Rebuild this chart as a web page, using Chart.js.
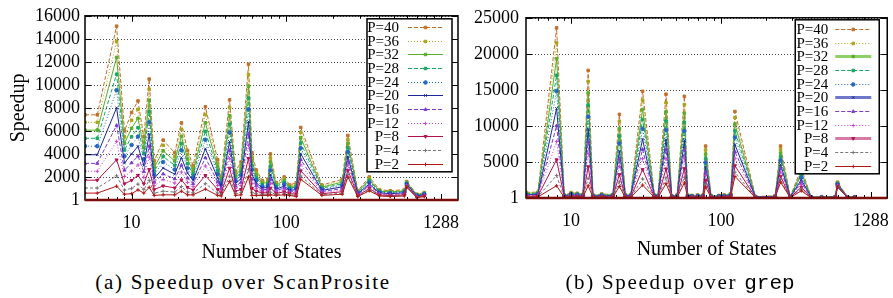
<!DOCTYPE html>
<html><head><meta charset="utf-8">
<script src="https://cdn.jsdelivr.net/npm/chart.js@4"></script>
<style>
html,body{margin:0;padding:0;background:#fff;width:893px;height:298px;overflow:hidden;}
#wa{position:absolute;left:0;top:0;width:470px;height:265px;}
#wb{position:absolute;left:462px;top:0;width:431px;height:265px;}
.cap{position:absolute;top:270px;font-family:"Liberation Serif","Times New Roman",serif;font-size:21px;letter-spacing:1.7px;white-space:nowrap;transform:translateX(-50%);color:#000;}
.mono{font-family:"Liberation Mono",monospace;letter-spacing:0;}
</style></head><body>
<div id="wa"><canvas id="ca" width="470" height="265"></canvas></div>
<div id="wb"><canvas id="cb" width="431" height="265"></canvas></div>
<div class="cap" style="left:243px">(a) Speedup over ScanProsite</div>
<div class="cap" style="left:680px">(b) Speedup over <span class="mono">grep</span></div>
<script>
// ---------- categories / ticks ----------
const states = [5,6,8,9,10,11,12,13,14,16,19,21,23,25,30,36,38,43,47,51,57,60,64,70,76,79,86,97,105,116,124,170,230,250,290,344,400,470,580,600,700,780];
const seriesLabels = ['P=40','P=36','P=32','P=28','P=24','P=20','P=16','P=12','P=8','P=4','P=2'];
const xTickValues = [10,100,1000];
const xTickLabels = ['10','100','1288'];
const xMinorTicks = [6,7,8,9,20,30,40,50,60,70,80,90,200,300,400,500,600,700,800,900];
const yTicksA = [1,2000,4000,6000,8000,10000,12000,14000,16000];
const yLabelsA = ['1','2000','4000','6000','8000','10000','12000','14000','16000'];
const yTicksB = [1,5000,10000,15000,20000,25000];
const yLabelsB = ['1','5000','10000','15000','20000','25000'];

// ---------- (a) Speedup over ScanProsite ----------
const scanP40 = [7400,7400,15100,6000,7600,8600,5500,10500,3400,5200,4100,6700,4300,3000,8100,3500,2000,8700,2500,3300,11800,4100,2600,1700,1800,4000,1500,2000,1300,1500,6300,1300,1800,5600,800,2000,900,800,900,1600,500,650];
const scanP36 = [6750,6750,13780,5480,6930,7870,5030,9610,3120,4750,3750,6140,3930,2760,7420,3210,1840,8030,2300,3030,10870,3750,2390,1580,1670,3660,1400,1850,1210,1390,5870,1210,1680,5260,750,1890,850,750,850,1550,470,620];
const scanP32 = [6070,6070,12390,4930,6230,7090,4540,8670,2820,4270,3390,5540,3550,2500,6710,2900,1680,7320,2090,2740,9890,3380,2170,1450,1530,3310,1290,1700,1120,1270,5420,1120,1550,4900,700,1770,790,700,790,1500,440,580];
const scanP28 = [5360,5360,10930,4350,5490,6280,4030,7680,2500,3780,3010,4920,3150,2240,5960,2570,1510,6570,1870,2450,8860,2990,1940,1310,1380,2940,1170,1540,1030,1140,4950,1030,1410,4520,650,1640,740,650,740,1450,410,550];
const scanP24 = [4680,4680,9540,3800,4780,5510,3540,6740,2200,3300,2640,4330,2760,1980,5240,2260,1340,5860,1660,2160,7880,2620,1720,1180,1240,2580,1060,1380,940,1020,4500,940,1280,4160,600,1520,680,600,680,1400,380,510];
const scanP20 = [3930,3930,8010,3200,4000,4660,3000,5710,1870,2780,2240,3680,2340,1700,4450,1920,1160,5080,1430,1850,6800,2210,1480,1040,1090,2190,940,1210,840,890,4010,840,1140,3760,550,1390,620,550,620,1350,350,470];
const scanP16 = [3180,3180,6480,2590,3230,3810,2460,4670,1540,2260,1840,3020,1910,1420,3670,1580,980,4300,1200,1530,5720,1810,1240,890,930,1800,820,1040,740,760,3510,740,990,3370,490,1260,560,490,560,1290,310,430];
const scanP12 = [2500,2500,5090,2040,2520,3040,1970,3730,1240,1780,1470,2430,1530,1160,2950,1270,810,3590,990,1250,4740,1440,1020,760,790,1440,710,880,650,640,3060,650,860,3010,440,1140,500,440,500,1240,280,400];
const scanP8  = [1720,1720,3490,1410,1710,2150,1410,2650,900,1230,1050,1750,1090,870,2130,910,620,2770,750,920,3620,1010,760,620,630,1040,580,710,550,500,2540,550,720,2590,380,1000,440,380,440,1180,250,360];
const scanP4  = [1040,1040,2100,860,1010,1380,920,1710,600,760,690,1160,700,620,1420,600,460,2060,540,640,2640,640,540,490,490,680,470,550,460,380,2090,460,590,2230,330,880,390,330,390,1130,220,320];
const scanP2  = [600,600,1200,500,550,880,600,1100,400,450,450,770,450,450,950,400,350,1600,400,450,2000,400,400,400,400,450,400,450,400,300,1800,400,500,2000,300,800,350,300,350,1100,200,300];

// ---------- (b) Speedup over grep ----------
const grepP40 = [800,800,23600,400,750,650,500,17700,400,550,500,11600,450,450,14800,400,350,14400,300,400,14100,400,350,400,400,7200,300,350,400,600,12000,200,300,7200,200,4100,150,150,200,2200,150,150];
const grepP36 = [740,740,21520,370,690,600,460,16180,370,510,460,10650,420,420,13570,370,320,13220,280,370,12960,370,320,370,370,6660,280,320,370,550,11150,180,280,6730,180,3810,140,140,180,2130,140,140];
const grepP32 = [670,670,19330,340,630,550,420,14580,340,460,420,9650,380,380,12270,340,300,11980,250,340,11760,340,300,340,340,6090,250,300,340,510,10250,170,250,6230,170,3500,130,130,170,2060,130,130];
const grepP28 = [600,600,17030,300,570,490,380,12900,300,420,380,8600,340,340,10900,300,270,10680,230,300,10500,300,270,300,300,5490,230,270,300,460,9300,150,230,5700,150,3170,110,110,150,1990,110,110];
const grepP24 = [540,540,14840,270,510,440,340,11300,270,370,340,7600,310,310,9600,270,240,9440,200,270,9300,270,240,270,270,4920,200,240,270,410,8400,140,200,5200,140,2860,100,100,140,1920,100,100];
const grepP20 = [470,470,12430,240,440,390,300,9540,240,330,300,6500,270,270,8170,240,210,8080,180,240,7980,240,210,240,240,4290,180,210,240,360,7410,120,180,4650,120,2520,90,90,120,1840,90,90];
const grepP16 = [400,400,10020,200,380,330,250,7780,200,280,250,5400,230,230,6740,200,180,6710,150,200,6660,200,180,200,200,3670,150,180,200,300,6420,100,150,4100,100,2180,80,80,100,1770,80,80];
const grepP12 = [330,330,7830,170,320,280,210,6180,170,230,210,4400,190,190,5440,170,150,5470,130,170,5460,170,150,170,170,3100,130,150,170,250,5520,90,130,3600,90,1870,60,60,90,1700,60,60];
const grepP8  = [260,260,5310,130,250,220,170,4340,130,180,170,3250,150,150,3950,130,120,4050,100,130,4080,130,120,130,130,2440,100,120,130,200,4490,70,100,3030,70,1510,50,50,70,1620,50,50];
const grepP4  = [190,190,3120,100,190,160,130,2740,100,140,130,2250,110,110,2650,100,90,2810,80,100,2880,100,90,100,100,1870,80,90,100,150,3590,50,80,2530,50,1200,40,40,50,1550,40,40];
const grepP2  = [150,150,1700,80,150,130,100,1700,80,110,100,1600,90,90,1800,80,70,2000,60,80,2100,80,70,80,80,1500,60,70,80,120,3000,40,60,2200,40,1000,30,30,40,1500,30,30];

// ---------- styles ----------
const seriesColors = ['#c0702e','#aaa41c','#5cad2c','#18a866','#2468c0','#1c2898','#7a3ccc','#cc44cc','#b3124e','#777777','#b01818'];
const keyThickColors = [null,null,'#8fcf6a',null,null,'#6f78c8',null,null,'#d57aa4',null,null];
const seriesDash = [[4,2],[1,2],[],[4,2],[1,2],[],[4,2],[1,2],[],[3,2],[]];
const seriesPoint = ['rect','rect','rect','rect','circle','crossRot','triangle','cross','triangle','cross','cross'];
const seriesRot = [0,0,0,0,0,0,0,0,180,0,0];
const serifFamily = '"Liberation Serif", "Times New Roman", serif';
const tickFont = {family:serifFamily, size:18};
const titleFont = {family:serifFamily, size:20};

function buildDatasets(arrays){
  return arrays.map((arr,k)=>({
    label: seriesLabels[k],
    data: states.map((s,i)=>({x:s,y:arr[i]})),
    borderColor: seriesColors[k], backgroundColor: seriesColors[k],
    borderWidth: 1, borderDash: seriesDash[k],
    pointStyle: seriesPoint[k], pointRotation: seriesRot[k],
    pointRadius: 1.8, pointBorderWidth: 1, tension: 0, fill: false,
    order: arrays.length - k
  }));
}

const framePlugin = {
  id:'frame',
  beforeDatasetsDraw(chart,args,o){
    const {ctx, chartArea:a, scales:{y:ys}} = chart;
    ctx.save();
    ctx.strokeStyle='rgba(0,0,0,0.7)'; ctx.lineWidth=1; ctx.setLineDash([1,2]);
    ctx.beginPath();
    for(const v of o.yTicks){ const py=Math.round(ys.getPixelForValue(v))+0.5; ctx.moveTo(a.left,py); ctx.lineTo(a.right,py); }
    ctx.stroke(); ctx.restore();
  },
  afterDatasetsDraw(chart,args,o){
    const {ctx, chartArea:a, scales:{x:xs,y:ys}} = chart;
    ctx.save(); ctx.setLineDash([]);
    ctx.strokeStyle='#000'; ctx.lineWidth=1;
    ctx.beginPath();
    for(const v of xTickValues){ const px=Math.round(xs.getPixelForValue(v))+0.5; ctx.moveTo(px,a.bottom); ctx.lineTo(px,a.bottom-6); ctx.moveTo(px,a.top); ctx.lineTo(px,a.top+6); }
    for(const v of xMinorTicks){ const px=Math.round(xs.getPixelForValue(v))+0.5; ctx.moveTo(px,a.bottom); ctx.lineTo(px,a.bottom-3); ctx.moveTo(px,a.top); ctx.lineTo(px,a.top+3); }
    for(const v of o.yTicks){ const py=Math.round(ys.getPixelForValue(v))+0.5; ctx.moveTo(a.left,py); ctx.lineTo(a.left+6,py); ctx.moveTo(a.right,py); ctx.lineTo(a.right-6,py); }
    ctx.stroke();
    ctx.lineWidth=1.5;
    ctx.strokeRect(a.left,a.top,a.right-a.left,a.bottom-a.top);
    ctx.strokeStyle='#7a0c0c'; ctx.lineWidth=2.5;
    ctx.beginPath(); ctx.moveTo(a.left,a.bottom); ctx.lineTo(a.right,a.bottom); ctx.stroke();
    ctx.restore();
  }
};

const keyPlugin = {
  id:'key',
  afterDraw(chart,args,o){
    const {ctx, chartArea:a} = chart;
    const bx=a.right-o.insetRight-o.width, by=a.top+o.insetTop;
    ctx.save();
    ctx.fillStyle='#fff'; ctx.fillRect(bx,by,o.width,o.height);
    ctx.strokeStyle='#000'; ctx.lineWidth=1.5; ctx.setLineDash([]); ctx.strokeRect(bx,by,o.width,o.height);
    ctx.font='15px '+serifFamily; ctx.textAlign='right'; ctx.textBaseline='middle';
    chart.data.datasets.forEach((ds,i)=>{
      const y=Math.round(by+o.firstRow+i*o.rowH)+0.5;
      ctx.fillStyle='#000'; ctx.fillText(ds.label,bx+o.textRight,y+1);
      const thick = o.thick && keyThickColors[i];
      ctx.strokeStyle = thick ? keyThickColors[i] : ds.borderColor;
      ctx.lineWidth = thick ? 3 : 1; ctx.setLineDash(ds.borderDash);
      ctx.beginPath(); ctx.moveTo(bx+o.s0,y); ctx.lineTo(bx+o.s1,y); ctx.stroke();
      ctx.setLineDash([]);
      if (Chart.helpers && Chart.helpers.drawPoint){
        ctx.fillStyle=ds.borderColor; ctx.strokeStyle=ds.borderColor; ctx.lineWidth=1;
        Chart.helpers.drawPoint(ctx,{pointStyle:ds.pointStyle,radius:ds.pointRadius,rotation:ds.pointRotation,borderWidth:1},(bx+(o.s0+o.s1)/2),y);
      }
    });
    ctx.restore();
  }
};

function makeChart(id, arrays, c){
  return new Chart(document.getElementById(id),{
    type:'line',
    data:{datasets:buildDatasets(arrays)},
    options:{
      responsive:false, animation:false, devicePixelRatio:1,
      layout:{padding:{left:0,right:c.padRight,top:c.padTop,bottom:0}},
      plugins:{legend:{display:false},tooltip:{enabled:false},key:c.key,frame:{yTicks:c.yTicks}},
      scales:{
        x:{type:'logarithmic',min:5,max:1288,position:'bottom',
          afterBuildTicks:s=>{ s.ticks=xTickValues.map(v=>({value:v})); },
          afterFit:s=>{ s.height=c.xHeight; },
          grid:{display:false}, border:{display:false},
          ticks:{autoSkip:false,maxRotation:0,minRotation:0,padding:4,color:'#000',font:tickFont,callback:(v,i)=>xTickLabels[i]},
          title:{display:true,text:'Number of States',color:'#000',font:titleFont,padding:{top:0,bottom:c.xTitlePad}}},
        y:{type:'linear',min:1,max:c.yMax,
          afterBuildTicks:s=>{ s.ticks=c.yTicks.map(v=>({value:v})); },
          afterFit:s=>{ s.width=c.yWidth; },
          grid:{display:false,drawTicks:false}, border:{display:false},
          ticks:{autoSkip:false,padding:c.yPad,color:'#000',font:tickFont,callback:(v,i)=>c.yLabels[i]},
          title:c.yTitle?{display:true,text:c.yTitle,color:'#000',font:titleFont,padding:{top:7,bottom:0}}:{display:false}}
      }
    },
    plugins:[framePlugin,keyPlugin]
  });
}

makeChart('ca',[scanP40,scanP36,scanP32,scanP28,scanP24,scanP20,scanP16,scanP12,scanP8,scanP4,scanP2],{
  padRight:12,padTop:14,xHeight:65,xTitlePad:0,yMax:16000,yTicks:yTicksA,yLabels:yLabelsA,yWidth:85,yPad:5,yTitle:'Speedup',
  key:{insetRight:6,insetTop:3,width:85,height:153,firstRow:8,rowH:13.7,textRight:32,s0:41,s1:76,thick:false}
});
makeChart('cb',[grepP40,grepP36,grepP32,grepP28,grepP24,grepP20,grepP16,grepP12,grepP8,grepP4,grepP2],{
  padRight:3,padTop:16,xHeight:67,xTitlePad:3,yMax:25000,yTicks:yTicksB,yLabels:yLabelsB,yWidth:64,yPad:7,yTitle:null,
  key:{insetRight:8,insetTop:2,width:84,height:154,firstRow:9,rowH:13.7,textRight:33,s0:40,s1:76,thick:true}
});
</script>
</body></html>
